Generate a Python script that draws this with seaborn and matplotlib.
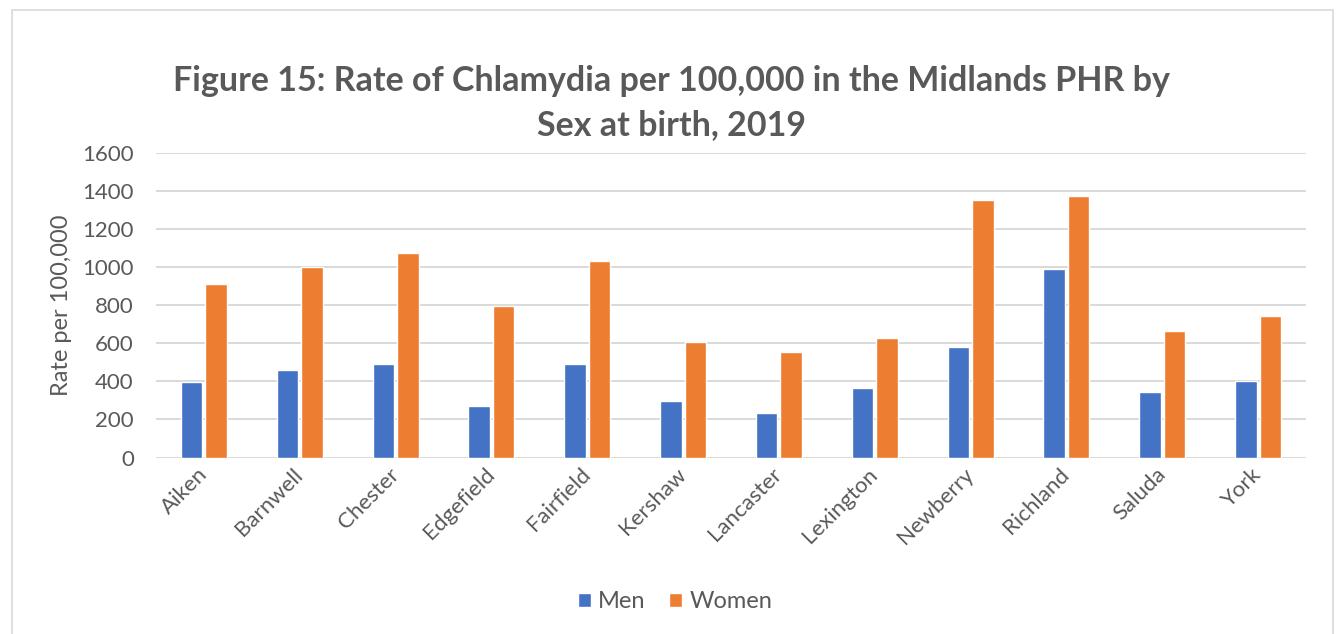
import matplotlib
matplotlib.use("Agg")
import matplotlib.pyplot as plt
import matplotlib.transforms as mtransforms
from matplotlib.patches import Rectangle
import pandas as pd
import seaborn as sns

# values
counties = ["Aiken", "Barnwell", "Chester", "Edgefield", "Fairfield", "Kershaw",
            "Lancaster", "Lexington", "Newberry", "Richland", "Saluda", "York"]
men = [395, 458, 493, 270, 493, 295, 235, 363, 582, 991, 346, 402]
women = [912, 1002, 1072, 796, 1035, 609, 554, 626, 1354, 1375, 667, 742]
sexes = ["Men", "Women"]
colors = {"Men": "#4472C4", "Women": "#ED7D31"}
title = "Figure 15: Rate of Chlamydia per 100,000 in the Midlands PHR by\nSex at birth, 2019"

df = pd.DataFrame({
    "County": counties * 2,
    "Sex": ["Men"] * len(men) + ["Women"] * len(women),
    "Rate": men + women,
})

sns.set_theme(style="white")
plt.rcParams['font.family'] = ['Lato', 'DejaVu Sans']
text_color = "#595959"

W, H = 1337, 634
fig = plt.figure(figsize=(W / 100, H / 100), dpi=100)
ax = fig.add_axes([156 / W, 1 - 457.5 / H, 1150 / W, 304.5 / H])

sns.barplot(data=df, x="County", y="Rate", hue="Sex", hue_order=sexes,
            palette=colors, saturation=1, width=0.51, gap=0.12, ax=ax,
            errorbar=None)

ax.set_ylim(0, 1600)
ax.set_xlim(-0.5, len(counties) - 0.5)
ax.set_yticks(range(0, 1601, 200))
ax.set_axisbelow(True)
ax.yaxis.grid(True, color="#D9D9D9", linewidth=1.4)
for s in ax.spines.values():
    s.set_visible(False)
ax.set_xlabel("")
ax.set_ylabel("")
ax.tick_params(axis="both", length=0, labelcolor=text_color, labelsize=16)
ax.tick_params(axis="y", pad=16)
ax.tick_params(axis="x", pad=5)

plt.setp(ax.get_xticklabels(), rotation=45, ha="right", rotation_mode="anchor")
offset = mtransforms.ScaledTranslation(-0.07, 0, fig.dpi_scale_trans)
for lbl in ax.get_xticklabels():
    lbl.set_transform(lbl.get_transform() + offset)

fig.text(62 / W, 1 - 305 / H, "Rate per 100,000", rotation=90, ha="center",
         va="center", color=text_color, fontsize=17)

fig.text(0.502, 1 - 103 / H, title, ha="center", va="center", color=text_color,
         fontsize=24.5, fontweight="bold", linespacing=1.45)

ax.legend_.remove()
handles, labels = ax.get_legend_handles_labels()
fig.legend(handles, labels, loc="center", bbox_to_anchor=(675 / W, 1 - 602 / H),
           ncol=2, frameon=False, fontsize=17, handlelength=0.55, handleheight=0.55,
           handletextpad=0.3, columnspacing=1.0, labelcolor=text_color)

fig.patches.append(Rectangle((12 / W, -0.05), 1321 / W, (H - 10) / H + 0.05,
                             transform=fig.transFigure, fill=False,
                             edgecolor="#D9D9D9", linewidth=1.2))

fig.savefig("out.png", dpi=100)
